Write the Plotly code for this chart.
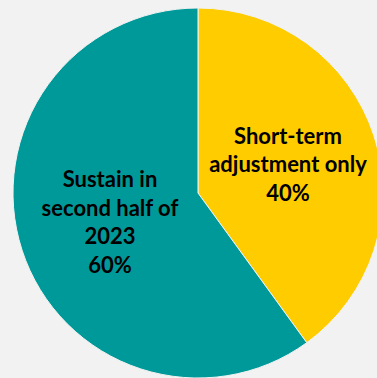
import plotly.graph_objects as go

labels = ["Short-term adjustment only", "Sustain in second half of 2023"]
display_labels = ["Short-term<br>adjustment only", "Sustain in<br>second half of<br>2023"]
values = [40, 60]
colors = ["#FFCC00", "#009999"]

W, H = 390, 378
cx, cy, r = 198, 193, 185

fig = go.Figure(go.Pie(
    labels=labels,
    values=values,
    text=display_labels,
    texttemplate="<b>%{text}<br>%{percent:.0%}</b>",
    textposition="inside",
    insidetextorientation="horizontal",
    sort=False,
    direction="clockwise",
    rotation=0,
    marker=dict(colors=colors, line=dict(color="#F2F2F2", width=1)),
    textfont=dict(family="Lato", size=22, color="black"),
    hoverinfo="label+percent",
    showlegend=False,
    domain=dict(x=[(cx - r) / W, (cx + r) / W], y=[(H - cy - r) / H, (H - cy + r) / H]),
))

fig.update_layout(
    width=W, height=H,
    margin=dict(l=0, r=0, t=0, b=0),
    paper_bgcolor="#F2F2F2",
    plot_bgcolor="#F2F2F2",
    uniformtext=dict(minsize=22, mode="show"),
)

fig.write_html("out.html", config={"displayModeBar": False},
               post_script="document.body.style.margin='0';document.body.style.overflow='hidden';document.body.style.background='#F2F2F2';")
